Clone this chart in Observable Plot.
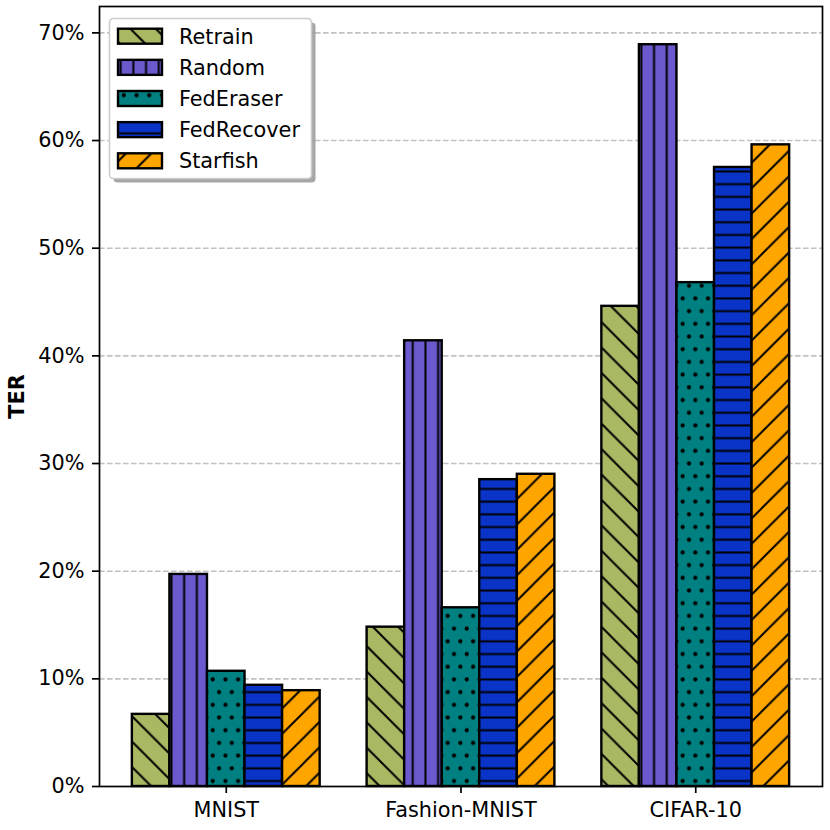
<!DOCTYPE html>
<html>
<head>
<meta charset="utf-8">
<script src="https://cdn.jsdelivr.net/npm/d3@7"></script>
<script src="https://cdn.jsdelivr.net/npm/@observablehq/plot@0.6"></script>
<style>
  html, body { margin: 0; padding: 0; background: #fff; }
  #chart svg [aria-label="y-axis label"] text, #chart svg [aria-label="y-axis label"] { font-weight: bold; }
</style>
</head>
<body>
<div id="chart"></div>
<script>
// ---- data ----
const datasets = ["MNIST", "Fashion-MNIST", "CIFAR-10"];
const methods = ["Retrain", "Random", "FedEraser", "FedRecover", "Starfish"];
const retrain = [6.7, 14.8, 44.6];
const random = [19.7, 41.4, 68.9];
const fedEraser = [10.7, 16.6, 46.8];
const fedRecover = [9.4, 28.5, 57.5];
const starfish = [8.9, 29.0, 59.6];
const yTicks = [0, 10, 20, 30, 40, 50, 60, 70];
const yTickLabels = ["0%", "10%", "20%", "30%", "40%", "50%", "60%", "70%"];
const colors = ["#a9b862", "#6a5acd", "#008080", "#0a33c8", "#ffa500"];
const hatches = ["\\", "||", "..", "--", "/"];

// grouped-bar layout like matplotlib: group i at x=i, bar width 0.16
const barWidth = 0.16;
const series = [retrain, random, fedEraser, fedRecover, starfish];
const rows = datasets.flatMap((d, i) => methods.map((m, j) => ({
  dataset: d, method: m, value: series[j][i],
  x1: i + (j - methods.length / 2) * barWidth,
  x2: i + (j - methods.length / 2 + 1) * barWidth
})));
const patternIds = methods.map((m, i) => `hatch-${i}`);
const xPad = 0.14;

const chart = Plot.plot({
  width: 830,
  height: 830,
  marginLeft: 99,
  marginRight: 8,
  marginTop: 6,
  marginBottom: 44,
  style: {fontFamily: "'DejaVu Sans', sans-serif", fontSize: "20.8px", color: "#000", background: "#fff", overflow: "visible"},
  x: {domain: [-methods.length / 2 * barWidth - xPad, datasets.length - 1 + methods.length / 2 * barWidth + xPad]},
  y: {domain: [0, 72.45]},
  color: {domain: methods, range: patternIds.map(id => `url(#${id})`)},
  marks: [
    Plot.ruleY(yTicks.slice(1), {stroke: "#c2c2c2", strokeWidth: 1.6, strokeDasharray: "5.6,2.4"}),
    Plot.rectY(rows, {x1: "x1", x2: "x2", y: "value", fill: "method", stroke: "#000", strokeWidth: 2.4}),
    Plot.frame({stroke: "#000", strokeWidth: 1.7}),
    Plot.axisY({ticks: yTicks, tickFormat: d => yTickLabels[yTicks.indexOf(d)], tickSize: 7, tickPadding: 8, strokeWidth: 1.7,
      label: "TER", labelAnchor: "center", labelArrow: "none", labelOffset: 90}),
    Plot.axisX({ticks: datasets.map((d, i) => i), tickFormat: i => datasets[i], tickSize: 7, tickPadding: 9, strokeWidth: 1.7, label: null})
  ]
});

document.getElementById("chart").appendChild(chart);

// ---- hatch patterns (matplotlib-like) ----
const svg = d3.select(chart);
const defs = svg.insert("defs", ":first-child");
const S = 25.4, H = 12.7, LW = 2;
hatches.forEach((h, i) => {
  const isDots = h === "..";
  const diag = (h === "\\" || h === "/");
  const w = diag ? S : H;
  const ht = (diag || isDots) ? S : H;
  const p = defs.append("pattern").attr("id", patternIds[i]).attr("patternUnits", "userSpaceOnUse")
    .attr("width", w).attr("height", ht);
  p.append("rect").attr("width", w).attr("height", ht).attr("fill", colors[i]);
  let d = null;
  if (h === "\\") d = `M0,0L${w},${ht}M${w - 3},-3L${w + 3},3M-3,${ht - 3}L3,${ht + 3}`;
  else if (h === "/") d = `M0,${ht}L${w},0M-3,3L3,-3M${w - 3},${ht + 3}L${w + 3},${ht - 3}`;
  else if (h === "||") d = `M${w / 2},0L${w / 2},${ht}`;
  else if (h === "--") d = `M0,${ht / 2}L${w},${ht / 2}`;
  if (d) p.append("path").attr("d", d).attr("stroke", "#000").attr("stroke-width", LW).attr("fill", "none");
  if (isDots) {
    [[w / 4, ht / 4], [w * 3 / 4, ht * 3 / 4]].forEach(([cx, cy]) =>
      p.append("circle").attr("cx", cx).attr("cy", cy).attr("r", 2.1).attr("fill", "#000"));
  }
});

// ---- legend (inside plot, upper left, with shadow) ----
const lg = svg.append("g").attr("class", "legend").attr("text-anchor", "start");
const bx = 109.5, by = 18.5, bw = 202, bh = 160;
lg.append("rect").attr("x", bx + 4).attr("y", by + 4).attr("width", bw).attr("height", bh)
  .attr("rx", 4).attr("fill", "#4d4d4d").attr("fill-opacity", 0.5);
lg.append("rect").attr("x", bx).attr("y", by).attr("width", bw).attr("height", bh)
  .attr("rx", 4).attr("fill", "#fff").attr("stroke", "#cccccc").attr("stroke-width", 1.6);
methods.forEach((m, i) => {
  const cy = 36.2 + i * 31.15;
  lg.append("rect").attr("x", 118).attr("y", cy - 7.5).attr("width", 44).attr("height", 15)
    .attr("fill", `url(#${patternIds[i]})`).attr("stroke", "#000").attr("stroke-width", 2.4);
  lg.append("text").attr("x", 179).attr("y", cy).attr("dy", "0.36em").attr("text-anchor", "start")
    .attr("font-family", "'DejaVu Sans', sans-serif").attr("font-size", "20.8px").attr("fill", "#000").text(m);
});
</script>
</body>
</html>
